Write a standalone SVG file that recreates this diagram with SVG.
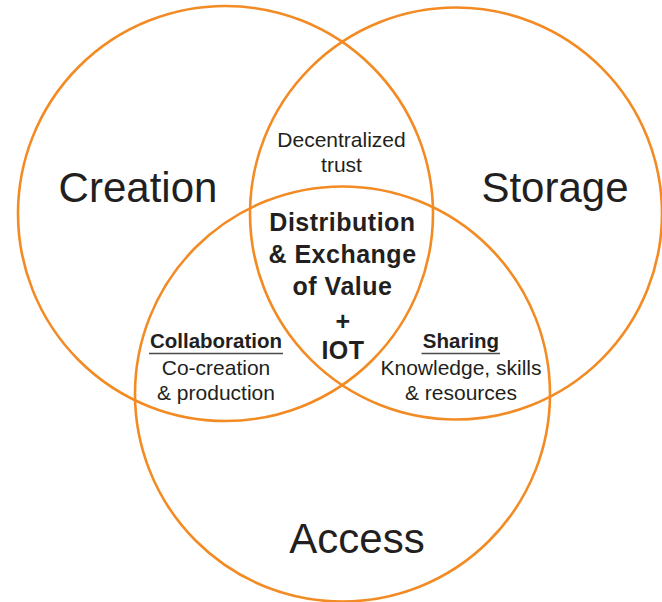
<svg xmlns="http://www.w3.org/2000/svg" width="662" height="602" viewBox="0 0 662 602">
<style>
.ring{fill:none;stroke:#F38B24;stroke-width:2.6}
.big{font-family:"Liberation Sans",Arial,sans-serif;font-size:42px;fill:#231F20;text-anchor:middle}
.reg{font-family:"Liberation Sans",Arial,sans-serif;font-size:21px;fill:#231F20;text-anchor:middle}
.hd{font-family:"Liberation Sans",Arial,sans-serif;font-size:20.5px;font-weight:bold;fill:#231F20;text-anchor:middle}
.ctr{font-family:"Liberation Sans",Arial,sans-serif;font-size:25px;font-weight:bold;fill:#231F20;text-anchor:middle;letter-spacing:0.5px}
.ul{stroke:#4a4a4a;stroke-width:1.6}
</style>
<rect width="662" height="602" fill="#ffffff"/>
<g id="creation">
<circle class="ring" cx="225.5" cy="213.5" r="207.5"/>
<text class="big" x="138" y="202">Creation</text>
</g>
<g id="storage">
<circle class="ring" cx="456" cy="213.5" r="206"/>
<text class="big" x="555" y="202">Storage</text>
</g>
<g id="access">
<circle class="ring" cx="342.5" cy="394" r="207.5"/>
<text class="big" x="357" y="553">Access</text>
</g>
<g id="decentralized-trust">
<text class="reg" x="341.5" y="147">Decentralized</text>
<text class="reg" x="341.5" y="172">trust</text>
</g>
<g id="collaboration">
<text class="hd" x="216" y="348">Collaboration</text>
<line class="ul" x1="149" y1="353.5" x2="283" y2="353.5"/>
<text class="reg" x="216" y="375">Co-creation</text>
<text class="reg" x="216" y="399.5">&amp; production</text>
</g>
<g id="sharing">
<text class="hd" x="461" y="348">Sharing</text>
<line class="ul" x1="421.5" y1="353.5" x2="500" y2="353.5"/>
<text class="reg" x="461" y="375">Knowledge, skills</text>
<text class="reg" x="461" y="399.5">&amp; resources</text>
</g>
<g id="center">
<text class="ctr" x="342.5" y="231">Distribution</text>
<text class="ctr" x="342.5" y="263">&amp; Exchange</text>
<text class="ctr" x="342.5" y="295">of Value</text>
<text class="ctr" x="343" y="330">+</text>
<text class="ctr" x="343" y="359">IOT</text>
</g>
</svg>
